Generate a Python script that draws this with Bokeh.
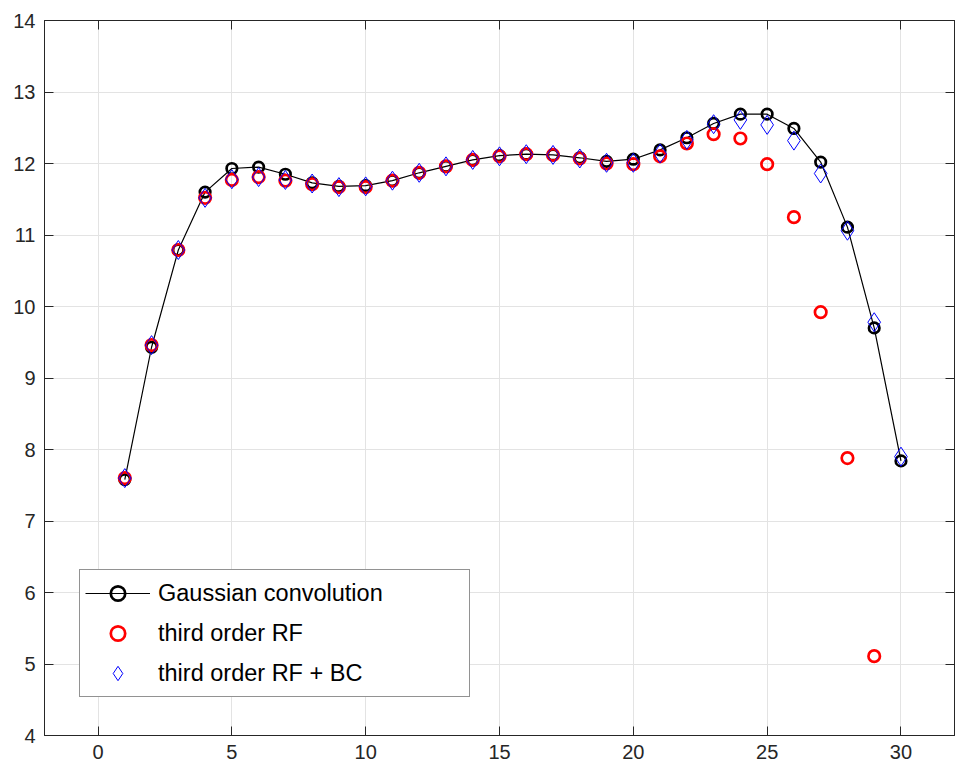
from bokeh.plotting import figure
from bokeh.models import (Range1d, LinearAxis, FixedTicker, Legend, LegendItem,
                          CustomJSTickFormatter)
from bokeh.embed import file_html
from bokeh.resources import INLINE

# ---- data ----
x = list(range(1, 31))
gauss = [7.58, 9.43, 10.79, 11.60, 11.93, 11.95, 11.85, 11.73, 11.68, 11.69,
         11.76, 11.87, 11.96, 12.05, 12.11, 12.13, 12.12, 12.08, 12.03, 12.06,
         12.19, 12.36, 12.56, 12.69, 12.69, 12.49, 12.02, 11.11, 9.70, 7.84]
rf = [7.60, 9.46, 10.79, 11.52, 11.77, 11.81, 11.76, 11.71, 11.67, 11.67,
      11.76, 11.87, 11.96, 12.05, 12.10, 12.13, 12.12, 12.07, 12.00, 11.99,
      12.10, 12.28, 12.41, 12.35, 11.99, 11.25, 9.92, 7.88, 5.11]
rf_bc = [7.60, 9.46, 10.79, 11.52, 11.78, 11.81, 11.77, 11.72, 11.67, 11.68,
         11.76, 11.87, 11.96, 12.05, 12.10, 12.13, 12.12, 12.07, 12.01, 12.01,
         12.14, 12.33, 12.55, 12.61, 12.54, 12.32, 11.86, 11.06, 9.78, 7.90]
x_ticks = [0, 5, 10, 15, 20, 25, 30]
y_ticks = list(range(4, 15))
labels = ["Gaussian convolution", "third order RF", "third order RF + BC"]

AX = "#262626"
FONT = "Liberation Sans"

p = figure(width=957, height=766, output_backend="svg", toolbar_location=None,
           x_range=Range1d(-2, 32), y_range=Range1d(4, 14),
           min_border_left=44, min_border_right=3, min_border_top=20,
           min_border_bottom=31,
           background_fill_color="white", border_fill_color="white")

p.outline_line_color = AX
p.outline_line_width = 1
p.outline_line_alpha = 1


def style(ax, ticks, show_labels=True):
    ax.ticker = FixedTicker(ticks=ticks)
    ax.major_tick_in = 9
    ax.major_tick_out = 0
    ax.minor_tick_line_color = None
    ax.major_tick_line_color = AX
    ax.major_tick_line_width = 1
    ax.axis_line_color = AX
    ax.axis_line_width = 1
    ax.major_label_text_font = FONT
    ax.major_label_text_color = AX
    if show_labels:
        ax.major_label_text_font_size = "20px"
    else:
        ax.formatter = CustomJSTickFormatter(code="return ''")
        ax.major_label_text_font_size = "0px"
        ax.major_label_standoff = 0


style(p.xaxis[0], x_ticks)
p.xaxis[0].major_label_standoff = 9
style(p.yaxis[0], y_ticks)
p.yaxis[0].major_label_standoff = 9

top = LinearAxis()
style(top, x_ticks, show_labels=False)
p.add_layout(top, "above")
right = LinearAxis()
style(right, y_ticks, show_labels=False)
p.add_layout(right, "right")

p.xgrid.ticker = FixedTicker(ticks=x_ticks)
p.ygrid.ticker = FixedTicker(ticks=y_ticks)
for g in (p.xgrid[0], p.ygrid[0]):
    g.grid_line_color = "#e3e3e3"
    g.grid_line_width = 1

# ---- series ----
line_r = p.line(x, gauss, line_color="black", line_width=1.2)
g_r = p.scatter(x, gauss, marker="circle", size=10.5, fill_color=None,
                line_color="black", line_width=2.7)
rf_r = p.scatter(x[:len(rf)], rf, marker="circle", size=11.5, fill_color=None,
                 line_color="#ff0000", line_width=2.7)
bc_r = p.scatter(x, rf_bc, marker="diamond", size=19, fill_color=None,
                 line_color="#0000ff", line_width=1)

legend = Legend(items=[LegendItem(label=labels[0], renderers=[line_r, g_r]),
                       LegendItem(label=labels[1], renderers=[rf_r]),
                       LegendItem(label=labels[2], renderers=[bc_r])],
                location=(35, 38), margin=0, padding=5, spacing=4,
                glyph_width=65, glyph_height=36, label_height=36,
                label_width=306, label_standoff=8,
                border_line_color=AX, border_line_width=1,
                background_fill_color="white", background_fill_alpha=1,
                label_text_font=FONT, label_text_font_size="23.5px",
                label_text_color="black")
p.add_layout(legend)

open("out.html", "w").write(file_html(p, INLINE))
